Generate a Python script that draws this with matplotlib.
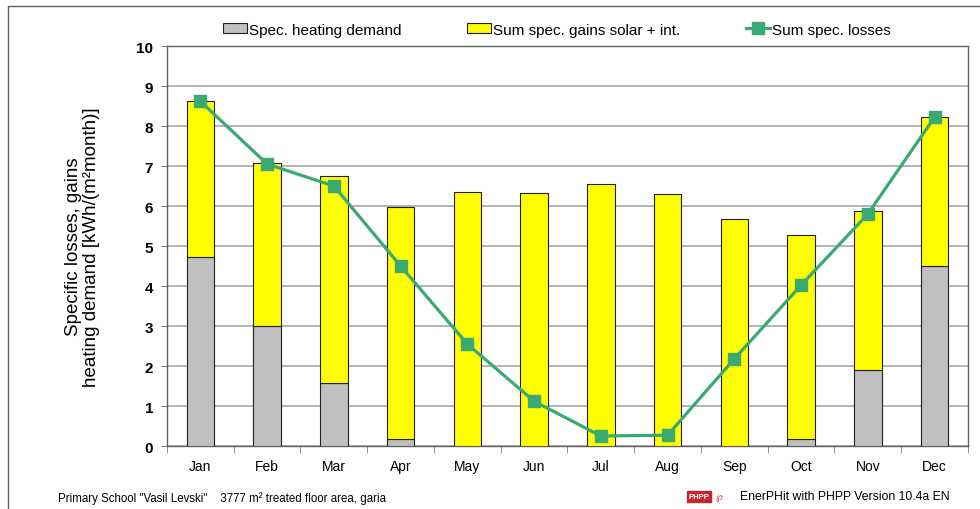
import matplotlib.pyplot as plt
import numpy as np
from matplotlib.patches import Rectangle

plt.rcParams.update({
    'font.family': ['Liberation Sans', 'DejaVu Sans'],
    'font.size': 10
})

months = ['Jan', 'Feb', 'Mar', 'Apr', 'May', 'Jun',
          'Jul', 'Aug', 'Sep', 'Oct', 'Nov', 'Dec']
heating = [4.72, 3.00, 1.57, 0.17, 0.0, 0.0, 0.0, 0.0, 0.0, 0.17, 1.90, 4.50]
gains = [3.91, 4.08, 5.19, 5.81, 6.35, 6.33, 6.55, 6.30, 5.68, 5.10, 3.98, 3.73]
losses = [8.62, 7.05, 6.50, 4.50, 2.55, 1.12, 0.25, 0.27, 2.18, 4.02, 5.80, 8.22]

fig = plt.figure(figsize=(9.8, 5.1), dpi=100)
ax = fig.add_axes([0.1704, 0.1235, 0.8173, 0.7843])

x = np.arange(len(months))
w = 0.41
b1 = ax.bar(x, heating, w, color='#c0c0c0', edgecolor='#202020', linewidth=0.8,
            label='Spec. heating demand', zorder=3)
b2 = ax.bar(x, gains, w, bottom=heating, color='#ffff00', edgecolor='#202020',
            linewidth=0.8, label='Sum spec. gains solar + int.', zorder=3)
ln, = ax.plot(x, losses, color='#3aaa72', lw=2.3, marker='s', markersize=9,
              label='Sum spec. losses', zorder=4)

ax.set_xlim(-0.5, len(months) - 0.5)
ax.set_ylim(0, 10)
ax.set_yticks(range(0, 11))
ax.yaxis.grid(True, color='#a0a0a0', lw=1.1, zorder=0)
ax.set_axisbelow(True)
for lbl in ax.get_yticklabels():
    lbl.set_fontweight('bold')
ax.tick_params(axis='y', labelsize=11, length=4, color='#808080', pad=6)

ax.set_xticks(x)
ax.set_xticklabels(months)
ax.set_xticks(np.arange(-0.5, len(months)), minor=True)
ax.tick_params(axis='x', which='major', length=0, labelsize=10, pad=9)
ax.tick_params(axis='x', which='minor', length=5, color='#808080')
for s in ax.spines.values():
    s.set_color('#606060')
    s.set_linewidth(1.0)

ax.set_ylabel('Specific losses, gains\nheating demand [kWh/(m²month)]',
              fontsize=13.5, labelpad=26, linespacing=1.05)

fig.legend(handles=[b1, b2, ln], loc='center', bbox_to_anchor=(0.568, 0.94),
           ncol=3, frameon=False, fontsize=11, handlelength=1.6,
           handletextpad=0.1, columnspacing=4.3, handleheight=0.6)

# outer frame
fig.patches.append(Rectangle((8 / 980, -0.1), 1.2, 1.0 - 7 / 510 + 0.1,
                             transform=fig.transFigure, fill=False,
                             edgecolor='#606060', lw=1.0))

fig.text(58 / 980, 1 - 499 / 510,
         'Primary School "Vasil Levski"    3777 m² treated floor area, garia',
         fontsize=8.3, va='center', ha='left')
fig.patches.append(Rectangle((687 / 980, 1 - 503 / 510), 24 / 980, 11 / 510,
                             transform=fig.transFigure, color='#c0282d'))
fig.text(699 / 980, 1 - 497.5 / 510, 'PHPP', color='white', fontsize=5.5,
         fontweight='bold', ha='center', va='center')
fig.text(719 / 980, 1 - 497.5 / 510, '℘', color='#c0282d', fontsize=7,
         ha='center', va='center')
fig.text(740 / 980, 1 - 497 / 510, 'EnerPHit with PHPP Version 10.4a EN',
         fontsize=8.8, va='center', ha='left')

fig.savefig('out.png', dpi=100)
plt.close(fig)
